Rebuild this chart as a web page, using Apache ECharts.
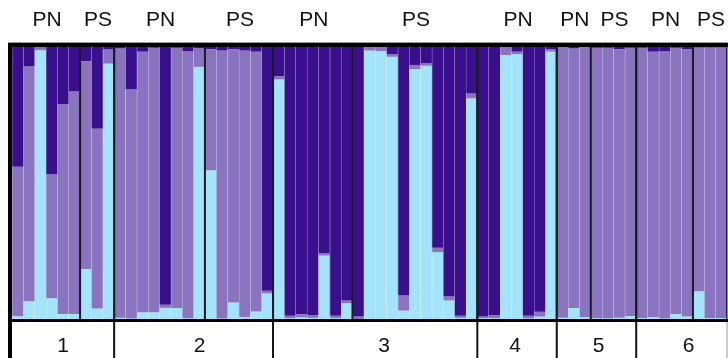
<!DOCTYPE html>
<html>
<head>
<meta charset="utf-8">
<script src="https://cdn.jsdelivr.net/npm/echarts@6/dist/echarts.min.js"></script>
<style>
  html, body { margin: 0; padding: 0; background: #fff; }
  #chart { width: 728px; height: 358px; }
</style>
</head>
<body>
<div id="chart"></div>
<script>
// individual ancestry proportions, one entry per bar (63 individuals)
const darkCluster = [
  0.44, 0.07, 0.00, 0.468, 0.211, 0.162, 0.052, 0.30, 0.009,
  0.005, 0.156, 0.017, 0.003, 0.948, 0.003, 0.015, 0.004, 0.008, 0.013, 0.008, 0.013, 0.017, 0.896,
  0.107, 0.988, 0.982, 0.985, 0.757, 0.988, 0.932, 0.991, 0.00, 0.00, 0.026, 0.914, 0.066, 0.06, 0.738, 0.916, 0.988, 0.171,
  0.991, 0.985, 0.00, 0.017, 0.988, 0.973, 0.008,
  0.00, 0.004, 0.00, 0.003, 0.003, 0.008, 0.003,
  0.003, 0.017, 0.015, 0.003, 0.008, 0.002, 0.002, 0.002
];
const midCluster = [
  0.55, 0.865, 0.012, 0.456, 0.771, 0.82, 0.764, 0.661, 0.052,
  0.99, 0.842, 0.958, 0.972, 0.011, 0.957, 0.982, 0.069, 0.445, 0.985, 0.931, 0.981, 0.955, 0.01,
  0.012, 0.009, 0.012, 0.011, 0.01, 0.009, 0.01, 0.009, 0.013, 0.015, 0.01, 0.055, 0.015, 0.009, 0.016, 0.016, 0.008, 0.018,
  0.006, 0.012, 0.03, 0.009, 0.01, 0.018, 0.009,
  0.995, 0.956, 0.994, 0.994, 0.994, 0.987, 0.986,
  0.993, 0.977, 0.983, 0.979, 0.983, 0.896, 0.994, 0.994
];
const lightCluster = [
  0.01, 0.065, 0.988, 0.076, 0.018, 0.018, 0.184, 0.039, 0.939,
  0.005, 0.002, 0.025, 0.025, 0.041, 0.04, 0.003, 0.927, 0.547, 0.002, 0.061, 0.006, 0.028, 0.094,
  0.881, 0.003, 0.006, 0.004, 0.233, 0.003, 0.058, 0.00, 0.987, 0.985, 0.964, 0.031, 0.919, 0.931, 0.246, 0.068, 0.004, 0.811,
  0.003, 0.003, 0.97, 0.974, 0.002, 0.009, 0.983,
  0.005, 0.04, 0.006, 0.003, 0.003, 0.005, 0.011,
  0.004, 0.006, 0.002, 0.018, 0.009, 0.102, 0.004, 0.004
];

const subgroupLabels = ['PN', 'PS', 'PN', 'PS', 'PN', 'PS', 'PN', 'PN', 'PS', 'PN', 'PS'];
const subgroupSizes = [6, 3, 8, 6, 7, 11, 7, 3, 4, 5, 3];
const populationLabels = ['1', '2', '3', '4', '5', '6'];
const populationSizes = [9, 14, 18, 7, 7, 8];

// the numbers under the boxes are not exactly centred in the original
const popLabelNudge = [0, 6, 9, -2, 2, 7];

const individuals = darkCluster.map((_, i) => String(i + 1));

function groupsFrom(labels, sizes) {
  let start = 0;
  return labels.map((label, i) => {
    const item = { value: [start, sizes[i]], label };
    start += sizes[i];
    return item;
  });
}

const subgroups = groupsFrom(subgroupLabels, subgroupSizes);
const populations = groupsFrom(populationLabels, populationSizes);
const popBoundaries = populations.slice(1).map((g) => g.value[0]);
const subBoundaries = subgroups.slice(1).map((g) => g.value[0]);

const FONT = '21px "Liberation Sans", Arial, sans-serif';

const chart = echarts.init(document.getElementById('chart'), null, { renderer: 'canvas' });

function bandEdge(api, index) {
  const band = api.size([1, 0])[0];
  return api.coord([index, 0])[0] - band / 2;
}

chart.setOption({
  animation: false,
  grid: { left: 12, right: 1, top: 47, bottom: 39 },
  xAxis: {
    type: 'category',
    data: individuals,
    z: 10,
    axisLine: { show: false },
    axisTick: { show: false },
    axisLabel: { show: false },
    splitLine: {
      show: true,
      interval: 0,
      lineStyle: { color: 'rgba(255,255,255,0.18)', width: 1 }
    }
  },
  yAxis: {
    type: 'value',
    min: 0,
    max: 1,
    show: false
  },
  series: [
    {
      name: 'K3',
      type: 'bar',
      stack: 'q',
      barCategoryGap: 0,
      itemStyle: { color: '#a3e3fb' },
      data: lightCluster
    },
    {
      name: 'K2',
      type: 'bar',
      stack: 'q',
      barCategoryGap: 0,
      itemStyle: { color: '#8b74bf' },
      data: midCluster
    },
    {
      name: 'K1',
      type: 'bar',
      stack: 'q',
      barCategoryGap: 0,
      itemStyle: { color: '#3a0f8e' },
      data: darkCluster
    },
    {
      // subgroup and population dividers inside the plot
      type: 'custom',
      z: 20,
      silent: true,
      data: popBoundaries.concat(subBoundaries).map((b) => [b, 0]),
      renderItem(params, api) {
        const x = bandEdge(api, api.value(0));
        const top = api.coord([0, 1])[1];
        const bottom = api.coord([0, 0])[1];
        return {
          type: 'line',
          shape: { x1: x, y1: top, x2: x, y2: bottom },
          style: { stroke: '#1c1c1c', lineWidth: 2 }
        };
      }
    },
    {
      // population box lines below the plot
      type: 'custom',
      z: 20,
      silent: true,
      data: popBoundaries.map((b) => [b, 0]),
      renderItem(params, api) {
        const x = bandEdge(api, api.value(0));
        const bottom = api.coord([0, 0])[1];
        return {
          type: 'line',
          shape: { x1: x, y1: bottom + 2, x2: x, y2: bottom + 45 },
          style: { stroke: '#111', lineWidth: 2 }
        };
      }
    },
    {
      type: 'custom',
      z: 20,
      silent: true,
      data: subgroups,
      renderItem(params, api) {
        const band = api.size([1, 0])[0];
        const x = bandEdge(api, api.value(0)) + api.value(1) * band / 2;
        const top = api.coord([0, 1])[1];
        return {
          type: 'text',
          style: {
            text: subgroupLabels[params.dataIndex],
            x: x + 1,
            y: top - 27,
            align: 'center',
            verticalAlign: 'middle',
            font: FONT,
            fill: '#111'
          }
        };
      }
    },
    {
      type: 'custom',
      z: 20,
      silent: true,
      data: populations,
      renderItem(params, api) {
        const band = api.size([1, 0])[0];
        const x = bandEdge(api, api.value(0)) + api.value(1) * band / 2;
        const bottom = api.coord([0, 0])[1];
        return {
          type: 'text',
          style: {
            text: populationLabels[params.dataIndex],
            x: x + popLabelNudge[params.dataIndex],
            y: bottom + 27,
            align: 'center',
            verticalAlign: 'middle',
            font: FONT,
            fill: '#111'
          }
        };
      }
    }
  ],
  graphic: [
    { type: 'rect', shape: { x: 8, y: 42, width: 720, height: 1 }, style: { fill: '#9a9a9a' }, z: 30 },
    { type: 'rect', shape: { x: 8, y: 43, width: 720, height: 4 }, style: { fill: '#000' }, z: 30 },
    { type: 'rect', shape: { x: 8, y: 43, width: 4, height: 315 }, style: { fill: '#000' }, z: 30 },
    { type: 'rect', shape: { x: 8, y: 319, width: 720, height: 3 }, style: { fill: '#000' }, z: 30 },
    { type: 'rect', shape: { x: 726, y: 47, width: 1.5, height: 272 }, style: { fill: '#222' }, z: 30 },
    { type: 'rect', shape: { x: 726.5, y: 322, width: 1, height: 36 }, style: { fill: '#999' }, z: 30 }
  ]
});
</script>
</body>
</html>
